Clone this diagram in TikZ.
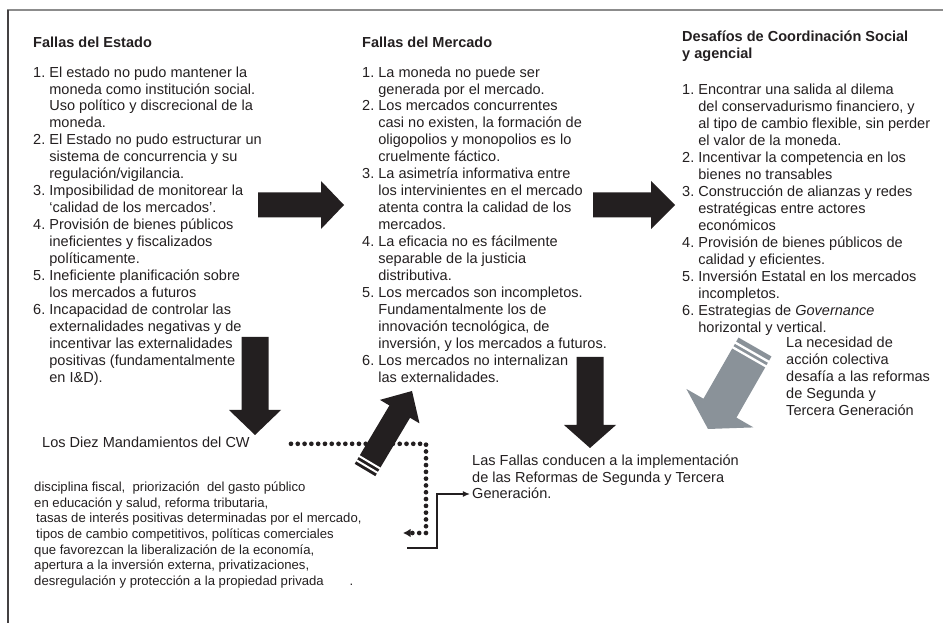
\documentclass[tikz,border=0pt]{standalone}
\usepackage{fontspec}
\setmainfont{Liberation Sans}
\usetikzlibrary{calc,positioning,arrows.meta}
\definecolor{ink}{HTML}{231F20}
\definecolor{arrowgray}{HTML}{8A9299}
\definecolor{framegray}{HTML}{8C8C8C}
\tikzstyle{column}=[anchor=base west, inner sep=0pt, text=ink, font=\fontsize{12.4}{14.5}\selectfont]
\tikzstyle{bottomtext}=[anchor=base west, inner sep=0pt, text=ink, font=\fontsize{12.4}{13.66}\selectfont]
\tikzstyle{smalltext}=[anchor=base west, inner sep=0pt, text=ink, font=\fontsize{11.2}{13.4}\selectfont]
\tikzstyle{cwdots}=[ink, line width=4pt, line cap=round, dash pattern=on 0pt off 5.8pt, -{Latex[length=6.5pt,width=7.5pt]}]
\tikzstyle{bracket}=[ink, line width=1.1pt, -{Latex[length=6pt,width=5pt]}]
% block arrow: [colour] tail, tip, half body, half head, head length
\newcommand{\blockarrow}[6][ink]{%
  \fill[#1] ($(#2)!#4!90:(#3)$) -- ($(#3)!#6!(#2)!#4!-90:(#2)$)
    -- ($(#3)!#6!(#2)!#5!-90:(#2)$) -- (#3)
    -- ($(#3)!#6!(#2)!#5!90:(#2)$) -- ($(#3)!#6!(#2)!#4!90:(#2)$)
    -- ($(#2)!#4!-90:(#3)$) -- cycle;}
% white band across an arrow near its tail
\newcommand{\tailstripe}[5][]{%
  \draw[white, #1] ($(#2)!#4!(#3)!#5!90:(#3)$) -- ($(#2)!#4!(#3)!#5!-90:(#3)$);}

\begin{document}
\begin{tikzpicture}[x=0.03cm, y=-0.03cm]
    \useasboundingbox (0,0) rectangle (943,626);

    % frame
    \draw[framegray, line width=1.2pt] (7,10) -- (943,10);
    \draw[ink!85, line width=1pt] (8,10) -- (8,623);

    \node (estado) [column] at (33,47.5)
        {\begin{tabular}[t]{@{}l@{\ }l@{}}
            \multicolumn{2}{@{}l@{}}{\textbf{Fallas del Estado}}\\[10.7pt]
            1. & El estado no pudo mantener la\\
               & moneda como institución social.\\
               & Uso político y discrecional de la\\
               & moneda.\\
            2. & El Estado no pudo estructurar un\\
               & sistema de concurrencia y su\\
               & regulación/vigilancia.\\
            3. & Imposibilidad de monitorear la\\
               & ‘calidad de los mercados’.\\
            4. & Provisión de bienes públicos\\
               & ineficientes y fiscalizados\\
               & políticamente.\\
            5. & Ineficiente planificación sobre\\
               & los mercados a futuros\\
            6. & Incapacidad de controlar las\\
               & externalidades negativas y de\\
               & incentivar las externalidades\\
               & positivas (fundamentalmente\\
               & en I\&D).
        \end{tabular}};

    \node (mercado) [column] at (362,47.5)
        {\begin{tabular}[t]{@{}l@{\ }l@{}}
            \multicolumn{2}{@{}l@{}}{\textbf{Fallas del Mercado}}\\[10.7pt]
            1. & La moneda no puede ser\\
               & generada por el mercado.\\
            2. & Los mercados concurrentes\\
               & casi no existen, la formación de\\
               & oligopolios y monopolios es lo\\
               & cruelmente fáctico.\\
            3. & La asimetría informativa entre\\
               & los intervinientes en el mercado\\
               & atenta contra la calidad de los\\
               & mercados.\\
            4. & La eficacia no es fácilmente\\
               & separable de la justicia\\
               & distributiva.\\
            5. & Los mercados son incompletos.\\
               & Fundamentalmente los de\\
               & innovación tecnológica, de\\
               & inversión, y los mercados a futuros.\\
            6. & Los mercados no internalizan\\
               & las externalidades.
        \end{tabular}};

    \node (desafios) [column] at (682,41.5)
        {\begin{tabular}[t]{@{}l@{\ }l@{}}
            \multicolumn{2}{@{}l@{}}{\textbf{Desafíos de Coordinación Social}}\\
            \multicolumn{2}{@{}l@{}}{\textbf{y agencial}}\\[16.2pt]
            1. & Encontrar una salida al dilema\\
               & del conservadurismo financiero, y\\
               & al tipo de cambio flexible, sin perder\\
               & el valor de la moneda.\\
            2. & Incentivar la competencia en los\\
               & bienes no transables\\
            3. & Construcción de alianzas y redes\\
               & estratégicas entre actores\\
               & económicos\\
            4. & Provisión de bienes públicos de\\
               & calidad y eficientes.\\
            5. & Inversión Estatal en los mercados\\
               & incompletos.\\
            6. & Estrategias de \textit{Governance}\\
               & horizontal y vertical.
        \end{tabular}};

    \node (accion) [column] at (786,348)
        {\begin{tabular}[t]{@{}l@{}}
            La necesidad de\\
            acción colectiva\\
            desafía a las reformas\\
            de Segunda y\\
            Tercera Generación
        \end{tabular}};

    \node (cw) [column] at (42,448) {Los Diez Mandamientos del CW};

    \node (cwlist) [smalltext] at (34,491.5)
        {\begin{tabular}[t]{@{}l@{}}
            disciplina fiscal,\ \ priorización\ \ del gasto público\\
            en educación y salud, reforma tributaria,\\
            \hspace*{1.7pt}tasas de interés positivas determinadas por el mercado,\\
            \hspace*{1.7pt}tipos de cambio competitivos, políticas comerciales\\
            que favorezcan la liberalización de la economía,\\
            apertura a la inversión externa, privatizaciones,\\
            desregulación y protección a la propiedad privada\hspace{22pt}.
        \end{tabular}};

    \node (fallas) [bottomtext] at (472,466)
        {\begin{tabular}[t]{@{}l@{}}
            Las Fallas conducen a la implementación\\
            de las Reformas de Segunda y Tercera\\
            Generación.
        \end{tabular}};

    % arrow ends
    \coordinate (em tail) at (258,205);
    \coordinate (em tip) at (344,205);
    \coordinate (md tail) at (593,205);
    \coordinate (md tip) at (675,205);
    \coordinate (ecw tail) at (255,337);
    \coordinate (ecw tip) at (255,435);
    \coordinate (mf tail) at (590,357);
    \coordinate (mf tip) at (590,448);
    \coordinate (cwm tail) at (365,470);
    \coordinate (cwm tip) at (412,391);
    \coordinate (df tail) at (755,347);
    \coordinate (df tip) at (708,429);
    \coordinate (cwend) at (403,533);
    \coordinate (brstart) at (407,548);

    % dotted and plain connectors
    \draw[cwdots] ($(cw.east)+(41,1)$) -| ($(cwend)+(23,-4)$) |- (cwend);
    \draw[bracket] (brstart) -| ($(fallas.base west)+(-35,28)$) -- ($(fallas.base west)+(-2,28)$);

    % block arrows
    \blockarrow{em tail}{em tip}{0.375cm}{0.72cm}{0.69cm}
    \blockarrow{md tail}{md tip}{0.375cm}{0.72cm}{0.72cm}
    \blockarrow{ecw tail}{ecw tip}{0.405cm}{0.78cm}{0.75cm}
    \blockarrow{mf tail}{mf tip}{0.405cm}{0.78cm}{0.69cm}
    \blockarrow{cwm tail}{cwm tip}{0.36cm}{0.69cm}{0.72cm}
    \tailstripe[line width=1.7pt]{cwm tail}{cwm tip}{0.12cm}{0.42cm}
    \tailstripe[line width=1.7pt]{cwm tail}{cwm tip}{0.27cm}{0.42cm}
    \blockarrow[arrowgray]{df tail}{df tip}{0.57cm}{1.16cm}{0.72cm}
    \tailstripe[line width=2pt]{df tail}{df tip}{0.18cm}{0.62cm}
    \tailstripe[line width=2pt]{df tail}{df tip}{0.34cm}{0.62cm}

\end{tikzpicture}
\end{document}
